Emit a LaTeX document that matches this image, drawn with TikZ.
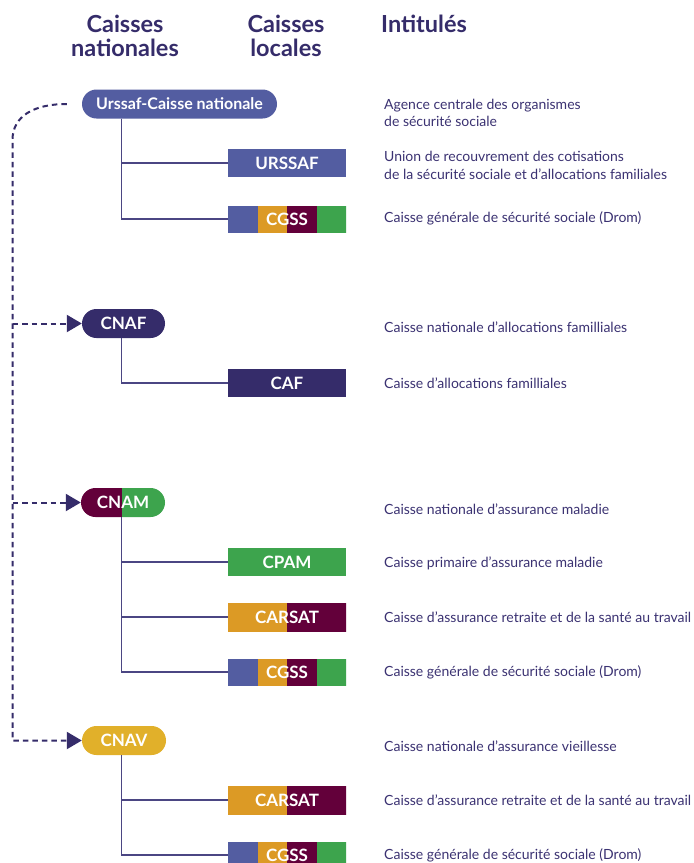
\documentclass[tikz,border=0pt]{standalone}
\usepackage{fontspec}
\setmainfont{Lato}
\usetikzlibrary{arrows.meta,calc}
\definecolor{cblue}{HTML}{535DA1}
\definecolor{cindigo}{HTML}{352C6A}
\definecolor{cmaroon}{HTML}{63003A}
\definecolor{cgreen}{HTML}{3DA44D}
\definecolor{corange}{HTML}{DC9A25}
\definecolor{cyellow}{HTML}{E1B02A}
\definecolor{ctext}{HTML}{3B3272}
\definecolor{cline}{HTML}{4B4683}
\begin{document}
\begin{tikzpicture}[x=1pt,y=-1pt,
 pill/.style={rounded corners=14.5pt, minimum height=29pt, inner sep=0pt, text=white, font=\fontsize{17}{19}\selectfont\bfseries},
 localbox/.style={minimum width=118pt, minimum height=28pt, inner sep=0pt, text=white, font=\fontsize{17}{19}\selectfont\bfseries},
 desc/.style={anchor=west, align=left, text=ctext, inner sep=0pt, font=\fontsize{14}{17.5}\selectfont},
 head/.style={align=center, text=cindigo, inner sep=0pt, font=\fontsize{23.5}{24}\selectfont\bfseries},
 branch/.style={draw=cline, line width=1.3pt},
 dashline/.style={draw=cindigo, line width=2pt, dash pattern=on 5.5pt off 4pt},
 arr/.style={-{Triangle[length=15pt,width=17pt]}},
 cgss/.style={localbox, minimum height=26pt, path picture={
   \fill[cblue, sharp corners] (path picture bounding box.north west) rectangle ++(29.5,30);
   \fill[corange, sharp corners] ([xshift=29.5pt]path picture bounding box.north west) rectangle ++(29.5,30);
   \fill[cmaroon, sharp corners] ([xshift=59pt]path picture bounding box.north west) rectangle ++(29.5,30);
   \fill[cgreen, sharp corners] ([xshift=88.5pt]path picture bounding box.north west) rectangle ++(30,30);}},
 carsat/.style={localbox, path picture={
   \fill[corange, sharp corners] (path picture bounding box.north west) rectangle ++(59,30);
   \fill[cmaroon, sharp corners] ([xshift=59pt]path picture bounding box.north west) rectangle ++(60,30);}},
 splitpill/.style={pill, path picture={
   \fill[cmaroon, sharp corners] (path picture bounding box.north west) rectangle ++(41,30);
   \fill[cgreen, sharp corners] ([xshift=41pt]path picture bounding box.north west) rectangle ++(60,30);}},
]
\useasboundingbox[fill=white] (0,0) rectangle (694,863);

% headings
\node[head] (h1) at (125,36) {Caisses\\nationales};
\node[head] (h2) at (286,36) {Caisses\\locales};
\node[head, anchor=west] (h3) at (381,24) {Intitulés};

% national pills
\node[pill, fill=cblue, minimum width=195pt, font=\fontsize{16}{18}\selectfont\bfseries] (urssafN) at (179.5,104) {Urssaf-Caisse nationale};
\node[pill, fill=cindigo, minimum width=83pt] (cnaf) at (123.5,323.5) {CNAF};
\node[splitpill, minimum width=84pt] (cnam) at (123,502.5) {CNAM};
\node[pill, fill=cyellow, minimum width=84pt] (cnav) at (124,740.5) {CNAV};

% local boxes
\node[localbox, fill=cblue] (urssafL) at (287,163) {URSSAF};
\node[cgss] (cgssA) at (287,219) {CGSS};
\node[localbox, fill=cindigo] (caf) at (287,383) {CAF};
\node[localbox, fill=cgreen] (cpam) at (287,562) {CPAM};
\node[carsat] (carsatA) at (287,617) {CARSAT};
\node[cgss] (cgssB) at (287,672) {CGSS};
\node[carsat] (carsatB) at (287,800) {CARSAT};
\node[cgss] (cgssC) at (287,855) {CGSS};

% branches
\coordinate (tU) at ([xshift=40pt]urssafN.south west);
\coordinate (tF) at ([xshift=40pt]cnaf.south west);
\coordinate (tM) at ([xshift=41pt]cnam.south west);
\coordinate (tV) at ([xshift=40pt]cnav.south west);
\draw[branch] (tU) |- (urssafL.west);
\draw[branch] (tU) |- (cgssA.west);
\draw[branch] (tF) |- (caf.west);
\draw[branch] (tM) |- (cpam.west);
\draw[branch] (tM) |- (carsatA.west);
\draw[branch] (tM) |- (cgssB.west);
\draw[branch] (tV) |- (carsatB.west);
\draw[branch] (tV) |- (cgssC.west);

% dashed trunk
\coordinate (trunk) at (12.5,0);
\coordinate (dstart) at ([xshift=-15pt]urssafN.west);
\draw[dashline, arr] (dstart) .. controls (34,104) and (12.5,116) .. (12.5,140) |- (cnav.west);
\draw[dashline, arr] (cnaf.west -| trunk) -- (cnaf.west);
\draw[dashline, arr] (cnam.west -| trunk) -- (cnam.west);

% descriptions
\node[desc] (d1) at (384,113) {Agence centrale des organismes\\de sécurité sociale};
\node[desc] (d2) at (384,165.5) {Union de recouvrement des cotisations\\de la sécurité sociale et d’allocations familiales};
\node[desc] (d3) at (384,218) {Caisse générale de sécurité sociale (Drom)};
\node[desc] (d4) at (384,327) {Caisse nationale d’allocations familliales};
\node[desc] (d5) at (384,383) {Caisse d’allocations familliales};
\node[desc] (d6) at (384,509) {Caisse nationale d’assurance maladie};
\node[desc] (d7) at (384,563) {Caisse primaire d’assurance maladie};
\node[desc] (d8) at (384,617) {Caisse d’assurance retraite et de la santé au travail};
\node[desc] (d9) at (384,672) {Caisse générale de sécurité sociale (Drom)};
\node[desc] (d10) at (384,746) {Caisse nationale d’assurance vieillesse};
\node[desc] (d11) at (384,800) {Caisse d’assurance retraite et de la santé au travail};
\node[desc] (d12) at (384,855) {Caisse générale de sécurité sociale (Drom)};
\end{tikzpicture}
\end{document}
